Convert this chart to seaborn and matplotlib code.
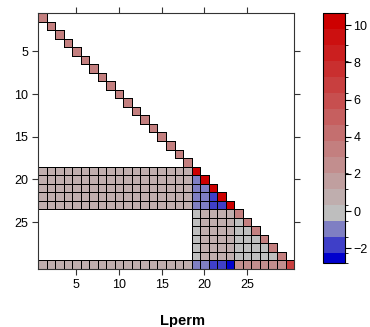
import matplotlib
matplotlib.use("Agg")
import matplotlib.pyplot as plt
import matplotlib.colors as mcolors
import numpy as np
import seaborn as sns

N = 30
tick_values = [5, 10, 15, 20, 25]
cbar_ticks = [-2, 0, 2, 4, 6, 8, 10]

# colour key breaks (16 bands)
breaks = [-2.81, -2.26, -1.40, -0.54, 0.32, 1.18, 2.04, 2.90, 3.76,
          4.62, 5.48, 6.34, 7.20, 8.06, 8.92, 9.78, 10.64]

# diagonal, rows 1..30
diag_vals = [3.3] * 18 + [10.5] * 5 + [3.3] * 6 + [7.0]
# rows 19-23 and row 30, columns 1-18
left_block = [0.8] * 18
# rows 20-23, columns 19 .. row-1
blue_wedge = [[-1.0], [-1.0, -1.0], [-1.0, -1.0, -2.0], [-1.0, -1.0, -2.0, -2.0]]
# rows 24-29, columns 19-23
lower_block = [0.0, 0.8, 0.8, 0.8, 0.8]
# rows 25-29, columns 24 .. row-1
lower_fill = 0.0
# row 30, columns 19-29
last_row = [-1.0, -1.0, -2.0, -2.0, -2.7, 2.5, 2.5, 2.5, 2.5, 2.5, 2.5]

mat = np.full((N, N), np.nan)
for i, v in enumerate(diag_vals):
    mat[i, i] = v
for r in [19, 20, 21, 22, 23, 30]:
    mat[r - 1, :18] = left_block
for k, vals in enumerate(blue_wedge):
    r = 20 + k
    mat[r - 1, 18:18 + len(vals)] = vals
for r in range(24, 30):
    mat[r - 1, 18:23] = lower_block
    mat[r - 1, 23:r - 1] = lower_fill
mat[29, 18:29] = last_row

# colours: gray -> blue3 (3 bands), gray -> red3 (12 bands)
blue_ramp = mcolors.LinearSegmentedColormap.from_list("b", ["#BEBEBE", "#0000CD"])
red_ramp = mcolors.LinearSegmentedColormap.from_list("r", ["#BEBEBE", "#CD0000"])
colors = [blue_ramp(t) for t in (1.0, 2 / 3, 1 / 3, 0.0)] + [red_ramp(k / 12) for k in range(1, 13)]
cmap = mcolors.ListedColormap(colors)
norm = mcolors.BoundaryNorm(breaks, cmap.N)

plt.rcParams["font.family"] = ["Liberation Sans", "DejaVu Sans"]
fig = plt.figure(figsize=(3.70, 3.27), dpi=100)
ax = fig.add_axes([0.1027, 0.1774, 0.692, 0.7829])
cax = fig.add_axes([0.873, 0.1948, 0.0595, 0.7645])

sns.heatmap(mat, ax=ax, cbar_ax=cax, cmap=cmap, norm=norm,
            linewidths=0.55, linecolor="black",
            xticklabels=False, yticklabels=False,
            cbar_kws={"spacing": "proportional", "ticks": cbar_ticks})

# only outline the cells that hold a value
mesh = ax.collections[0]
edges = np.zeros((N * N, 4))
edges[~np.isnan(mat).ravel()] = (0, 0, 0, 1)
mesh.set_edgecolor(edges)

pos = [v - 0.5 for v in tick_values]
ax.set_xticks(pos)
ax.set_xticklabels([str(v) for v in tick_values])
ax.set_yticks(pos)
ax.set_yticklabels([str(v) for v in tick_values], rotation=0)
ax.tick_params(direction="out", length=4, width=0.8, color="#333333", labelsize=9,
               top=True, right=True, labeltop=False, labelright=False, pad=3)
for s in ax.spines.values():
    s.set_visible(True)
    s.set_linewidth(0.8)
    s.set_color("#333333")
ax.set_xlabel("Lperm", fontsize=10.5, fontweight="bold")
ax.xaxis.set_label_coords(0.5625, -0.176)
ax.set_ylabel("")

cb = mesh.colorbar
cb.outline.set_linewidth(0.8)
cb.outline.set_edgecolor("black")
cb.ax.tick_params(direction="out", length=4, width=0.8, labelsize=9, pad=2)
cb.ax.set_yticklabels(["\u22122", "0", "2", "4", "6", "8", "10"])

fig.savefig("out.png", dpi=100)
